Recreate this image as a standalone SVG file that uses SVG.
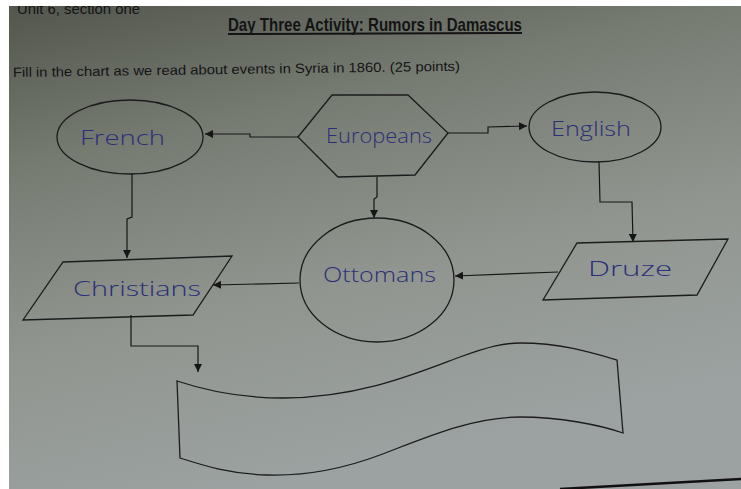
<svg xmlns="http://www.w3.org/2000/svg" width="741" height="489" viewBox="0 0 741 489">
<defs>
<linearGradient id="paper" x1="0" y1="0" x2="0.35" y2="1">
<stop offset="0" stop-color="#52564d"/>
<stop offset="0.3" stop-color="#767b72"/>
<stop offset="0.65" stop-color="#90958f"/>
<stop offset="1" stop-color="#9ca2a1"/>
</linearGradient>
<marker id="arr" viewBox="0 0 10 10" refX="10" refY="5" markerWidth="8" markerHeight="8" markerUnits="userSpaceOnUse" orient="auto">
<path d="M0,0 L10,5 L0,10 Z" fill="#161616"/>
</marker>
<style>
.shape{fill:none;stroke:#1c1c1c;stroke-width:1.3}
.conn{fill:none;stroke:#161616;stroke-width:1.2;marker-end:url(#arr)}
.hand{font-family:"Open Sans","DejaVu Sans",sans-serif;font-weight:300;fill:#2b2f78;font-size:21px}
.print{font-family:"Liberation Sans",Arial,sans-serif;fill:#141414}
</style>
</defs>
<rect width="741" height="489" fill="#ffffff"/>
<rect x="9" y="6" width="732" height="483" fill="url(#paper)"/>
<path d="M560,489 L741,479" stroke="#111" stroke-width="2.5" fill="none"/>

<g id="header">
<text class="print" x="17" y="14" font-size="15" textLength="123" lengthAdjust="spacingAndGlyphs">Unit 6, section one</text>
<rect x="0" y="0" width="741" height="6" fill="#ffffff"/>
<text class="print" x="228" y="31" font-size="19" font-weight="bold" textLength="294" lengthAdjust="spacingAndGlyphs">Day Three Activity: Rumors in Damascus</text>
<line x1="228" y1="34" x2="522" y2="33" stroke="#141414" stroke-width="2"/>
<text class="print" x="13" y="77" font-size="13.5" transform="rotate(-0.8 13 77)" textLength="447" lengthAdjust="spacingAndGlyphs">Fill in the chart as we read about events in Syria in 1860. (25 points)</text>
</g>

<g id="connectors">
<path class="conn" d="M298,137 L250,137 L250,134 L205,134"/>
<path class="conn" d="M448,133 L488,133 L488,127 L527,126"/>
<path class="conn" d="M377,177 L377,197 L374,199 L374,218"/>
<path class="conn" d="M132,173 L132,217 L127,219 L127,258"/>
<path class="conn" d="M599,162 L600,202 L632,202 L633,242"/>
<path class="conn" d="M558,272 L455,276"/>
<path class="conn" d="M299,283 L213,285"/>
<path class="conn" d="M131,315 L131,346 L198,346 L198,372"/>
</g>

<g id="french">
<ellipse class="shape" cx="130" cy="137" rx="73" ry="37"/>
<text class="hand" x="80" y="145" textLength="85" lengthAdjust="spacingAndGlyphs">French</text>
</g>
<g id="europeans">
<polygon class="shape" points="298,137 332,95 408,95 448,133 415,175 338,177"/>
<text class="hand" x="326" y="143" textLength="106" lengthAdjust="spacingAndGlyphs">Europeans</text>
</g>
<g id="english">
<ellipse class="shape" cx="595" cy="127" rx="66" ry="35"/>
<text class="hand" x="551" y="136" textLength="80" lengthAdjust="spacingAndGlyphs">English</text>
</g>
<g id="christians">
<polygon class="shape" points="63,262 232,256 193,315 23,320"/>
<text class="hand" x="73" y="296" textLength="128" lengthAdjust="spacingAndGlyphs">Christians</text>
</g>
<g id="ottomans">
<ellipse class="shape" cx="377" cy="280" rx="77" ry="62"/>
<text class="hand" x="323" y="282" textLength="113" lengthAdjust="spacingAndGlyphs">Ottomans</text>
</g>
<g id="druze">
<polygon class="shape" points="577,243 728,239 697,295 543,300"/>
<text class="hand" x="588" y="276" textLength="84" lengthAdjust="spacingAndGlyphs">Druze</text>
</g>
<g id="banner">
<path class="shape" d="M177,381 C210,392 245,398 283,398 C360,398 420,372 460,357 C490,346 505,343 520,343 C560,343 590,352 617,360 L623,433 C600,425 560,417 520,417 C470,417 420,440 380,455 C340,470 300,476 267,475 C230,474 205,466 180,458 Z"/>
</g>
</svg>
